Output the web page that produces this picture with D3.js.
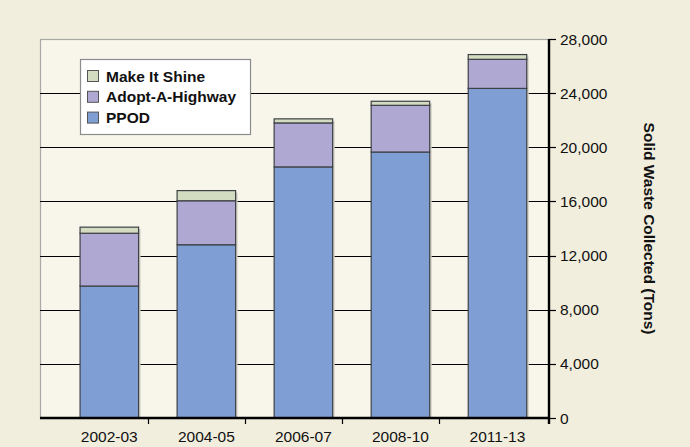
<!DOCTYPE html>
<html><head><meta charset="utf-8">
<script src="https://cdn.jsdelivr.net/npm/d3@7"></script>
<style>
html,body{margin:0;padding:0;background:#f1eedd;}
svg{display:block;font-family:"Liberation Sans",Arial,sans-serif;}
</style></head>
<body>
<svg id="c" width="690" height="447"></svg>
<script>
const categories = ["2002-03","2004-05","2006-07","2008-10","2011-13"];
const ppod = [9750, 12800, 18550, 19650, 24350];
const adoptAHighway = [3900, 3250, 3250, 3450, 2150];
const makeItShine = [450, 750, 300, 300, 350];
const seriesNames = ["PPOD","Adopt-A-Highway","Make It Shine"];
const yTicks = [0,4000,8000,12000,16000,20000,24000,28000];
const yTitle = "Solid Waste Collected (Tons)";

const colors = {"PPOD":"#7f9fd4","Adopt-A-Highway":"#afa8d3","Make It Shine":"#d3dcc0"};

const svg = d3.select("#c");
const plot = {left:40, right:549, top:39, bottom:418};

const rows = categories.map((c,i)=>({cat:c,"PPOD":ppod[i],"Adopt-A-Highway":adoptAHighway[i],"Make It Shine":makeItShine[i]}));
const stack = d3.stack().keys(seriesNames)(rows);

const y = d3.scaleLinear().domain([0,28000]).range([plot.bottom, plot.top]);
const x = d3.scaleBand().domain(categories).range([60.8, 546]).paddingInner(0.397).paddingOuter(0.1985);

// panel
svg.append("rect").attr("x",plot.left+0.5).attr("y",plot.top+0.5)
  .attr("width",plot.right-plot.left).attr("height",plot.bottom-plot.top)
  .attr("fill","#f8f6eb").attr("stroke","#a8a8a4").attr("stroke-width",1.2);

// gridlines
svg.append("g").selectAll("line").data(yTicks.filter(t=>t>0 && t<28000)).join("line")
  .attr("x1",plot.left).attr("x2",plot.right+7)
  .attr("y1",d=>Math.round(y(d))+0.5).attr("y2",d=>Math.round(y(d))+0.5)
  .attr("stroke","#000").attr("stroke-width",1.2);

// bar shadows
svg.append("g").selectAll("rect").data(rows).join("rect")
  .attr("x",d=>x(d.cat)+2).attr("y",(d,i)=>y(stack[2][i][1])+2)
  .attr("width",x.bandwidth()).attr("height",(d,i)=>y(0)-y(stack[2][i][1])-2)
  .attr("fill","#d2d0c6");

// bars
svg.append("g").selectAll("g").data(stack).join("g")
  .attr("fill",d=>colors[d.key])
  .selectAll("rect").data(d=>d).join("rect")
  .attr("x",d=>x(d.data.cat)).attr("y",d=>y(d[1]))
  .attr("width",x.bandwidth()).attr("height",d=>y(d[0])-y(d[1]))
  .attr("stroke","#3d4045").attr("stroke-width",1.2);

// bottom axis line
svg.append("line").attr("x1",plot.left).attr("x2",plot.right)
  .attr("y1",plot.bottom).attr("y2",plot.bottom).attr("stroke","#000").attr("stroke-width",2.4);
// x ticks between categories
svg.append("g").selectAll("line").data(categories.slice(0,4)).join("line")
  .attr("x1",d=>Math.round(x(d)+x.bandwidth()+9)+0.5).attr("x2",d=>Math.round(x(d)+x.bandwidth()+9)+0.5)
  .attr("y1",plot.bottom).attr("y2",plot.bottom+6).attr("stroke","#000").attr("stroke-width",1.2);
// x labels
svg.append("g").selectAll("text").data(categories).join("text")
  .attr("x",d=>x(d)+x.bandwidth()/2).attr("y",plot.bottom+24)
  .attr("text-anchor","middle").attr("font-size",15.5).attr("fill","#111").text(d=>d);

// right axis
svg.append("line").attr("x1",plot.right).attr("x2",plot.right)
  .attr("y1",plot.top).attr("y2",plot.bottom+6).attr("stroke","#000").attr("stroke-width",2.4);
svg.append("g").selectAll("line").data(yTicks).join("line")
  .attr("x1",plot.right).attr("x2",plot.right+7)
  .attr("y1",d=>Math.round(y(d))+0.5).attr("y2",d=>Math.round(y(d))+0.5)
  .attr("stroke","#000").attr("stroke-width",1.2);
svg.append("g").selectAll("text").data(yTicks).join("text")
  .attr("x",plot.right+11).attr("y",d=>y(d)).attr("dy","0.36em")
  .attr("font-size",15.5).attr("fill","#111").text(d=>d3.format(",")(d));

// y title
svg.append("text").attr("transform",`translate(644,${(plot.top+plot.bottom)/2}) rotate(90)`)
  .attr("text-anchor","middle").attr("font-size",15.5).attr("font-weight","bold").attr("fill","#111")
  .text(yTitle);

// legend
const lg = svg.append("g");
lg.append("rect").attr("x",80.5).attr("y",59.5).attr("width",170).attr("height",75)
  .attr("fill","#fff").attr("stroke","#8c8c8c").attr("stroke-width",1.2);
const legendOrder = seriesNames.slice().reverse();
const li = lg.selectAll("g").data(legendOrder).join("g")
  .attr("transform",(d,i)=>`translate(87,${70+i*20.8})`);
li.append("rect").attr("x",0.5).attr("y",0.5).attr("width",11).attr("height",11)
  .attr("fill",d=>colors[d]).attr("stroke","#555").attr("stroke-width",1);
li.append("text").attr("x",19).attr("y",6).attr("dy","0.36em")
  .attr("font-size",15.5).attr("font-weight","bold").attr("fill","#111").text(d=>d);
</script>
</body></html>
